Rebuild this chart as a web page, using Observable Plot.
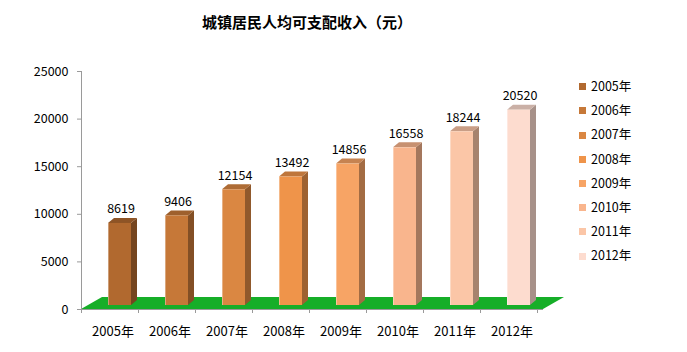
<!DOCTYPE html>
<html><head><meta charset="utf-8">
<script src="https://cdn.jsdelivr.net/npm/d3@7"></script>
<script src="https://cdn.jsdelivr.net/npm/@observablehq/plot@0.6"></script>
<style>
body{margin:0;background:#fff;}
#wrap{position:relative;width:687px;height:352px;font-family:"Noto Sans CJK SC",sans-serif;overflow:hidden;}
#title{position:absolute;left:0;top:12px;width:614px;text-align:center;font-size:15px;font-weight:bold;line-height:20px;color:#000;}
#chart{position:absolute;left:0;top:50px;}
#legend{position:absolute;left:579px;top:0;}
.row{position:absolute;left:0;width:100px;height:20px;font-size:12.5px;line-height:20px;color:#000;white-space:nowrap;}
.sw{display:inline-block;width:7px;height:7px;margin-right:5px;vertical-align:middle;position:relative;top:-1px;}
</style></head><body>
<div id="wrap"><div id="title">城镇居民人均可支配收入（元）</div><div id="chart"></div><div id="legend"></div></div>
<script>
const years = ["2005年","2006年","2007年","2008年","2009年","2010年","2011年","2012年"];
const values = [8619, 9406, 12154, 13492, 14856, 16558, 18244, 20520];
const colors = ["#B1692F","#C67838","#DA8742","#EF944A","#F7A465","#F9B58D","#FBC6A7","#FDDCCF"];
const yTicks = [0, 5000, 10000, 15000, 20000, 25000];
const floorColor = "#16AE28";

const data = years.map((year, i) => ({year, value: values[i], color: colors[i]}));
const shade = (c, k) => { const r = d3.rgb(c); return d3.rgb(r.r * k, r.g * k, r.b * k).formatHex(); };

// 3D geometry (pixels)
const FDX = 21, FDY = -12;   // floor depth
const PX = 7, PY = -4;       // bar front plane offset
const DX = 6, DY = -5;       // bar depth

const NS = "http://www.w3.org/2000/svg";
function el(tag, attrs) { const e = document.createElementNS(NS, tag); for (const k in attrs) e.setAttribute(k, attrs[k]); return e; }
function bw(scales) { return typeof scales.x.bandwidth === "function" ? scales.x.bandwidth() : scales.scales.x.bandwidth; }
function stepOf(scales) { return typeof scales.x.step === "function" ? scales.x.step() : scales.scales.x.step; }

const floorMark = Plot.barY([0], {x: () => years[0], y: () => 0, render: (index, scales) => {
  const g = el("g", {});
  const [r0, r1] = scales.x.range ? scales.x.range() : scales.scales.x.range;
  const y0 = scales.y(0);
  g.appendChild(el("polygon", {points: [[r0, y0], [r1, y0], [r1 + FDX, y0 + FDY], [r0 + FDX, y0 + FDY]].map(p => p.join(",")).join(" "), fill: floorColor}));
  // axis lines and ticks
  g.appendChild(el("line", {x1: r0, x2: r1, y1: y0 + 0.5, y2: y0 + 0.5, stroke: "#9a9a9a"}));
  g.appendChild(el("line", {x1: r0 + 0.5, x2: r0 + 0.5, y1: scales.y(yTicks[yTicks.length - 1]), y2: y0 + 4, stroke: "#9a9a9a"}));
  const st = stepOf(scales);
  for (let i = 0; i <= years.length; i++) {
    const x = Math.round(r0 + i * st) + 0.5;
    g.appendChild(el("line", {x1: x, x2: x, y1: y0, y2: y0 + 4, stroke: "#9a9a9a"}));
  }
  return g;
}});

const barMark = Plot.barY(data, {x: "year", y: "value", render: (index, scales) => {
  const g = el("g", {});
  const w = bw(scales);
  for (const i of index) {
    const d = data[i];
    const X0 = scales.x(d.year) + PX, X1 = X0 + w;
    const Yb = scales.y(0) + PY, Yt = scales.y(d.value) + PY;
    const pts = a => a.map(p => p.join(",")).join(" ");
    g.appendChild(el("polygon", {points: pts([[X1, Yb], [X1 + DX, Yb + DY], [X1 + DX, Yt + DY], [X1, Yt]]), fill: shade(d.color, 0.66)}));
    g.appendChild(el("polygon", {points: pts([[X0, Yt], [X0 + DX, Yt + DY], [X1 + DX, Yt + DY], [X1, Yt]]), fill: shade(d.color, 0.8)}));
    g.appendChild(el("rect", {x: X0, y: Yt, width: w, height: Yb - Yt, fill: d.color}));
    g.appendChild(el("line", {x1: X0 + 0.5, x2: X0 + 0.5, y1: Yt, y2: Yb, stroke: "#ffffff", "stroke-opacity": 0.35}));
  }
  return g;
}});

const chart = Plot.plot({
  width: 687, height: 302,
  marginLeft: 81, marginRight: 144, marginTop: 21, marginBottom: 43,
  style: {fontFamily: "'Noto Sans CJK SC', sans-serif", fontSize: "12.5px", color: "#000", background: "transparent"},
  x: {domain: years, paddingInner: 0.6, paddingOuter: 0.3, axis: null},
  y: {domain: [0, 25000], axis: null},
  marks: [
    floorMark,
    barMark,
    Plot.text(data, {x: "year", y: "value", text: d => String(d.value), dx: 8, dy: -14, lineAnchor: "bottom", fontSize: 12.5, fill: "#000"}),
    Plot.axisY(yTicks, {tickSize: 4, tickPadding: 9, stroke: "#9a9a9a", fill: "#000", fontSize: 12.5, tickFormat: d => String(d), label: null}),
    Plot.axisX(years, {tickSize: 0, tickPadding: 17, fill: "#000", fontSize: 13, label: null})
  ]
});
document.getElementById("chart").appendChild(chart);

const legend = document.getElementById("legend");
years.forEach((y, i) => {
  const row = document.createElement("div");
  row.className = "row";
  row.style.top = (86 + i * 24.2 - 10) + "px";
  row.innerHTML = `<span class="sw" style="background:${colors[i]}"></span>${y}`;
  legend.appendChild(row);
});
</script>
</body></html>
